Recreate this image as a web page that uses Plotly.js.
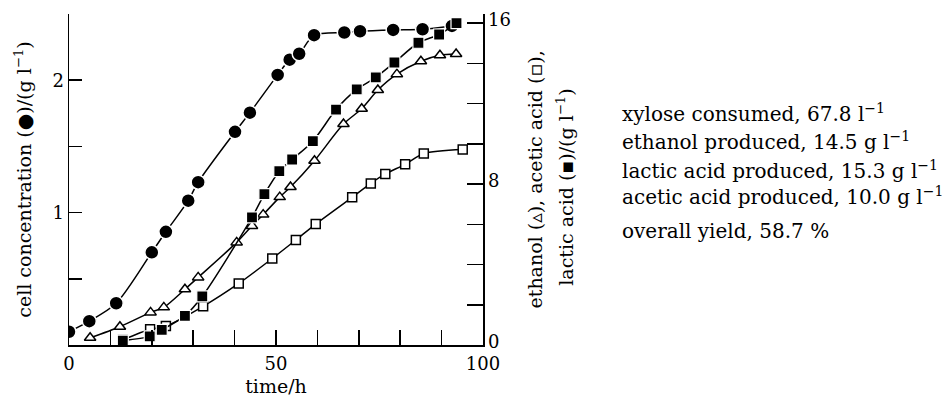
<!DOCTYPE html>
<html>
<head>
<meta charset="utf-8">
<script src="https://cdn.plot.ly/plotly-3.0.1.min.js"></script>
<style>html,body{margin:0;padding:0;background:#fff;}#chart{width:945px;height:397px;}</style>
</head>
<body>
<div id="chart"></div>
<script>
// Cell concentration (filled circles), left axis, g/l
const cellTime = [0, 4.9, 11.4, 20, 23.4, 28.8, 31.2, 40.1, 43.7, 50.4, 53.3, 55.6, 59.2, 66.5, 70.3, 78.3, 85.4, 92.5];
const cellConc = [0.10, 0.18, 0.315, 0.70, 0.855, 1.09, 1.23, 1.61, 1.755, 2.04, 2.155, 2.20, 2.34, 2.36, 2.37, 2.38, 2.385, 2.41];

// Lactic acid (filled squares), right axis, g/l
const lacticTime = [13, 19.5, 22.4, 28, 32.2, 44.2, 47.2, 50.8, 53.9, 58.9, 64.5, 69.5, 74.1, 78.6, 84.4, 89.4, 93.6];
const lacticConc = [0.22, 0.43, 0.75, 1.45, 2.42, 6.34, 7.5, 8.64, 9.22, 10.13, 11.7, 12.7, 13.3, 14.04, 15.02, 15.43, 16.0];

// Ethanol (open triangles), right axis, g/l
const ethanolTime = [5.1, 12.3, 19.7, 22.9, 28, 31.2, 40.5, 44.2, 46.9, 50.9, 53.5, 59.3, 66.3, 70.7, 74.6, 79.2, 85, 89.6, 93.5];
const ethanolConc = [0.36, 0.91, 1.62, 1.87, 2.77, 3.36, 5.1, 5.92, 6.48, 7.35, 7.85, 9.16, 10.98, 11.74, 12.67, 13.46, 14.1, 14.4, 14.46];

// Acetic acid (open squares), right axis, g/l
const aceticTime = [13, 19.6, 23.4, 32.4, 41, 49.1, 54.8, 59.6, 68.4, 72.9, 76.4, 81.2, 85.7, 95.1];
const aceticConc = [0.25, 0.78, 0.94, 1.92, 3.06, 4.3, 5.22, 6.01, 7.34, 8.03, 8.5, 8.98, 9.52, 9.72];

// Tick labels
const xTickVals = [0, 10, 20, 30, 40, 50, 60, 70, 80, 90, 100];
const xTickText = ['0', '', '', '', '', '50', '', '', '', '', '100'];
const yLeftTickVals = [0.5, 1, 1.5, 2, 2.5];
const yLeftTickText = ['', '1', '', '2', ''];
const yRightTickVals = [0, 2, 4, 6, 8, 10, 12, 14, 16];
const yRightTickText = ['0', '', '', '', '8', '', '', '', '16'];

// Axis titles
const xTitle = 'time/h';
const yLeftTitle = 'cell concentration (●)/(g l<sup>−1</sup>)';
const yRightTitleLines = ['ethanol (▵), acetic acid (▫),', 'lactic acid (▪)/(g l<sup>−1</sup>)'];

// Side notes
const notes = [
  'xylose consumed, 67.8 l<sup>−1</sup>',
  'ethanol produced, 14.5 g l<sup>−1</sup>',
  'lactic acid produced, 15.3 g l<sup>−1</sup>',
  'acetic acid produced, 10.0 g l<sup>−1</sup>',
  'overall yield, 58.7 %'
];
const noteY = [0.702, 0.617, 0.53, 0.449, 0.343];

const FONT = 'DejaVu Serif, Liberation Serif, serif';
const lineStyle = {color: '#000', width: 1.5, shape: 'spline', smoothing: 0.8};

const traces = [
  {
    x: ethanolTime, y: ethanolConc, yaxis: 'y2', type: 'scatter', mode: 'lines+markers',
    name: 'ethanol', line: lineStyle,
    marker: {symbol: 'triangle-up', size: 10, color: '#fff', line: {color: '#000', width: 1.5}}
  },
  {
    x: aceticTime, y: aceticConc, yaxis: 'y2', type: 'scatter', mode: 'lines+markers',
    name: 'acetic acid', line: lineStyle,
    marker: {symbol: 'square', size: 9, color: '#fff', line: {color: '#000', width: 1.5}}
  },
  {
    x: lacticTime, y: lacticConc, yaxis: 'y2', type: 'scatter', mode: 'lines+markers',
    name: 'lactic acid', line: lineStyle,
    marker: {symbol: 'square', size: 11, color: '#000', line: {color: '#fff', width: 1.2}}
  },
  {
    x: cellTime, y: cellConc, type: 'scatter', mode: 'lines+markers',
    name: 'cell concentration', line: lineStyle,
    marker: {symbol: 'circle', size: 14, color: '#000', line: {color: '#fff', width: 1.5}}
  }
];

const annotations = notes.map((t, i) => ({
  text: t, xref: 'paper', yref: 'paper', x: 1.331, y: noteY[i],
  xanchor: 'left', yanchor: 'middle', showarrow: false,
  font: {family: FONT, size: 20, color: '#000'}
}));

// right axis title, two lines, rotated
const rightTitleX = [1.1256, 1.198];
const rightTitleY = [0.5, 0.478];
yRightTitleLines.forEach((t, i) => annotations.push({
  text: t, xref: 'paper', yref: 'paper', x: rightTitleX[i], y: rightTitleY[i],
  xanchor: 'center', yanchor: 'middle', textangle: -90, showarrow: false,
  font: {family: FONT, size: 19, color: '#000'}
}));

const layout = {
  width: 945, height: 397,
  margin: {l: 69, r: 462, t: 14, b: 52, pad: 0},
  paper_bgcolor: '#fff', plot_bgcolor: '#fff',
  showlegend: false,
  font: {family: FONT, size: 18, color: '#000'},
  xaxis: {
    range: [0, 100], showgrid: false, zeroline: false,
    showline: true, linecolor: '#000', linewidth: 1.5,
    ticks: 'inside', ticklen: 15, tickwidth: 1.5, tickcolor: '#000',
    tickmode: 'array', tickvals: xTickVals, ticktext: xTickText,
    tickfont: {family: FONT, size: 18, color: '#000'},
    ticklabelstandoff: 2,
    title: {text: xTitle, font: {family: FONT, size: 19, color: '#000'}, standoff: 9}
  },
  yaxis: {
    range: [0, 2.5], showgrid: false, zeroline: false,
    showline: true, linecolor: '#000', linewidth: 1.5,
    ticks: 'inside', ticklen: 13, tickwidth: 1.5, tickcolor: '#000',
    tickmode: 'array', tickvals: yLeftTickVals, ticktext: yLeftTickText,
    tickfont: {family: FONT, size: 18, color: '#000'},
    title: {text: yLeftTitle, font: {family: FONT, size: 19, color: '#000'}, standoff: 16}
  },
  yaxis2: {
    overlaying: 'y', side: 'right', anchor: 'x',
    range: [0, 16.45], showgrid: false, zeroline: false,
    showline: true, linecolor: '#000', linewidth: 1.5,
    ticks: 'inside', ticklen: 16, tickwidth: 1.5, tickcolor: '#000',
    tickmode: 'array', tickvals: yRightTickVals, ticktext: yRightTickText,
    tickfont: {family: FONT, size: 18, color: '#000'},
    ticklabelshift: -3
  },
  annotations: annotations
};

Plotly.newPlot('chart', traces, layout, {staticPlot: true, displayModeBar: false});
</script>
</body>
</html>
